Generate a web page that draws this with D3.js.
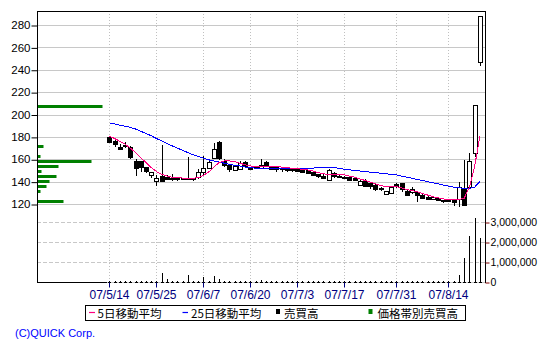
<!DOCTYPE html>
<html><head><meta charset="utf-8">
<script src="https://cdn.jsdelivr.net/npm/d3@7"></script>
<style>body{margin:0;background:#fff;} svg{display:block;}</style>
</head><body>
<svg id="c" width="550" height="350"></svg>
<script>
// ---------- DATA ----------
const dates = [
 "07/5/14","07/5/15","07/5/16","07/5/17","07/5/18","07/5/21","07/5/22","07/5/23","07/5/24","07/5/25","07/5/28","07/5/29","07/5/30","07/5/31",
 "07/6/1","07/6/4","07/6/5","07/6/6","07/6/7","07/6/8","07/6/11","07/6/12","07/6/13","07/6/14","07/6/15","07/6/18","07/6/19","07/6/20","07/6/21","07/6/22","07/6/25","07/6/26","07/6/27","07/6/28","07/6/29",
 "07/7/2","07/7/3","07/7/4","07/7/5","07/7/6","07/7/9","07/7/10","07/7/11","07/7/12","07/7/13","07/7/17","07/7/18","07/7/19","07/7/20","07/7/23","07/7/24","07/7/25","07/7/26","07/7/27","07/7/30","07/7/31",
 "07/8/1","07/8/2","07/8/3","07/8/6","07/8/7","07/8/8","07/8/9","07/8/10","07/8/13","07/8/14","07/8/15","07/8/16","07/8/17","07/8/20","07/8/21","07/8/22"];
const openP = [180,176.5,171,173,171,158.5,158,153,145.5,141,145,144,143.5,143,143,143,142.5,144,148,152,161,175.5,158,155,
 150,151,157.5,152.5,152.5,152,157.5,153,153,152,151.5,151,151,150.5,150,148.5,146.5,145,141.5,147.5,145,144.5,144.5,143,
 137.5,141,139,137,134,129,130.5,138,138.5,132,130,131,128,126,124.5,125,123.5,123,124,124.5,133,135,166,247];
const highP = [180.5,177,174,175,172,160,158.5,153.5,148.5,146,173,146,147,143.5,143.5,162,143.5,151.5,162.5,158,174.5,176,160,156,
 155,158.5,158,153,153.5,160,158,153.5,153.5,152.5,152,151.5,151.5,151,150.5,149,147,146.5,151,148.5,146,145,145,143.5,
 141.5,142,139.5,138,135,132,136,138.5,139,133,135.5,132,128.5,127,127,125.5,124,124.5,124.5,140,159.5,166,208.5,288];
const lowP = [175,171,169,170,160,145,148.5,148,143.5,136,140,142,141,141,142,142,140.5,142,146,151.5,160,159,153.5,148.5,
 149.5,150.5,153,151,151.5,151.5,153.5,151,148.5,149,149,149,149,148.5,147,145,143.5,142.5,141,143.5,143,142.5,141.5,140.5,
 137,135,133,132,132,128.5,130,134.5,131,127,129,122,124.5,123.5,124,122.5,121,122.5,118,117,118,134,162,243.5];
const closeP = [175.5,174,169.5,172.5,162,152.5,153,149.5,148.5,143.5,140.5,142.5,142.5,142.5,142.5,142.5,143,148.5,152,157.5,169,161,154,151.5,
 154,156.5,153.5,152,153,155,154,151.5,151,151,151,150.5,149.5,149,147.5,145.5,144.5,143.5,150.5,145,144,144,142,141,
 141,136.5,136.5,133,133,131.5,135.5,136,133.5,128,133,128,125,124.5,126.5,123,123,124,122,135,118.5,158,208.5,288];
const volume = [30000,30000,30000,30000,30000,60000,30000,60000,30000,30000,
 450000,150000,60000,30000,30000,350000,60000,60000,250000,60000,
 300000,150000,60000,60000,30000,30000,30000,30000,30000,100000,
 30000,30000,30000,30000,30000,30000,30000,30000,30000,30000,30000,30000,
 60000,
 30000,30000,30000,30000,30000,30000,30000,30000,30000,30000,30000,30000,
 30000,30000,30000,30000,30000,30000,30000,30000,30000,30000,30000,30000,
 350000,1200000,2300000,3200000,2200000];
const ma5 = [180.5,178.5,176,173.5,170,166,161.5,157,152.5,149,146.5,145,144,143.5,143.2,143,143,143.5,145.5,148.5,153,157,158.5,158.5,
 158,156.5,155,154,153.8,153.8,153.8,153.6,153.4,153,152.5,152,151.5,151,150.5,149.5,148,147,146.5,146.5,146.5,146,145,144,
 142.5,141,139.5,138,136.5,135.5,135.5,135.5,134.5,133,132,131,129.5,128,126.5,125.5,124.5,124,124,124,125,135,153,180.5];
const ma25 = [192.5,191.5,190.5,189.5,188.5,187,185,183,181,178.5,176.5,174,172,170,168,166,164,162.5,161,159.5,158.5,157.5,156.5,155.5,
 154.5,154,153,152.5,152,152,151.8,151.8,151.8,151.8,151.8,151.8,151.8,151.8,151.8,152,153,153,153,152.5,152,151,150.5,150,
 149.5,149,148.5,148,147.5,147,146.5,146,145,144,143,142,141,140,139,138,137,136,135,134.5,134,134,135,140];
const bandPrice  = [208,172,163,158.5,154,149.5,145,140.5,136,131.5,122.5];
const bandVolume = [3250,300,150,2700,1050,200,950,600,450,150,1300];
const xTickLabels = ["07/5/14","07/5/25","07/6/7","07/6/20","07/7/3","07/7/17","07/7/31","07/8/14"];
const priceTicks = [120,140,160,180,200,220,240,260,280];
const volumeTicks = [0,1000000,2000000,3000000];
const legendLabels = ["5日移動平均","25日移動平均","売買高","価格帯別売買高"];
const creditText = "(C)QUICK Corp.";

// ---------- LAYOUT ----------
const L = 37, R = 485, T = 11, B = 282;
const svg = d3.select("#c");
const x = d3.scaleLinear().domain([-13.9, 72]).range([L, R]);
const yP = d3.scaleLinear().domain([120, 280]).range([204, 25]);
const yV = d3.scaleLinear().domain([0, 3000000]).range([B, 222]);
const xb = d3.scaleLinear().domain([0, 3250]).range([0, 65]);
const cx = i => Math.round(x(i)) + 0.5;
const crisp = v => Math.round(v) + 0.5;
const idx = d3.range(dates.length);
const tickIdx = xTickLabels.map(s => dates.indexOf(s));

// grid: price (solid)
svg.append("g").selectAll("line").data(priceTicks).join("line")
  .attr("x1", L).attr("x2", R).attr("y1", d => crisp(yP(d))).attr("y2", d => crisp(yP(d)))
  .attr("stroke", "#c8c8c8");
// grid: volume (dashed)
svg.append("g").selectAll("line").data(volumeTicks.slice(1)).join("line")
  .attr("x1", L).attr("x2", R).attr("y1", d => crisp(yV(d))).attr("y2", d => crisp(yV(d)))
  .attr("stroke", "#c8c8c8").attr("stroke-dasharray", "4,2");
// grid: vertical dotted
svg.append("g").selectAll("line").data(tickIdx).join("line")
  .attr("x1", d => cx(d)).attr("x2", d => cx(d)).attr("y1", T).attr("y2", B)
  .attr("stroke", "#c0c0c0").attr("stroke-dasharray", "1,2");

// price-band volume bars
svg.append("g").selectAll("rect").data(bandPrice).join("rect")
  .attr("x", L + 0.5).attr("y", d => Math.round(yP(d)) - 1)
  .attr("width", (d, i) => xb(bandVolume[i])).attr("height", 3)
  .attr("fill", "#008000");

// volume bars
const vg = svg.append("g").attr("shape-rendering", "crispEdges");
vg.append("line").attr("x1", cx(0) - 3).attr("x2", R).attr("y1", B + 0.5).attr("y2", B + 0.5).attr("stroke", "#c8c8c8");
vg.append("line").attr("x1", L).attr("x2", cx(0) - 3).attr("y1", B + 0.5).attr("y2", B + 0.5).attr("stroke", "#000");
vg.selectAll("rect.base").data(idx).join("rect").attr("class", "base")
  .attr("x", i => cx(i) - 1.5).attr("y", B).attr("width", 3).attr("height", 1).attr("fill", "#000");
vg.selectAll("line.v").data(idx).join("line").attr("class", "v")
  .attr("x1", i => cx(i)).attr("x2", i => cx(i))
  .attr("y1", B).attr("y2", i => yV(volume[i])).attr("stroke", "#000");

// candles
const cg = svg.append("g").attr("shape-rendering", "crispEdges");
cg.selectAll("line").data(idx).join("line")
  .attr("x1", i => cx(i)).attr("x2", i => cx(i))
  .attr("y1", i => yP(highP[i])).attr("y2", i => yP(lowP[i])).attr("stroke", "#000");
cg.selectAll("rect").data(idx).join("rect")
  .attr("x", i => cx(i) - 2).attr("width", 4)
  .attr("y", i => Math.round(yP(Math.max(openP[i], closeP[i]))) + 0.5)
  .attr("height", i => Math.max(1, Math.round(Math.abs(yP(openP[i]) - yP(closeP[i])))))
  .attr("fill", i => closeP[i] > openP[i] ? "#fff" : "#000").attr("stroke", "#000");

// moving averages
const line = arr => d3.line().x(i => x(i)).y(i => yP(arr[i]))(idx);
svg.append("path").attr("d", line(ma25)).attr("fill", "none").attr("stroke", "#0000ff").attr("stroke-width", 1).attr("shape-rendering", "crispEdges");
svg.append("path").attr("d", line(ma5)).attr("fill", "none").attr("stroke", "#ff0080").attr("stroke-width", 1).attr("shape-rendering", "crispEdges");

// frame
svg.append("line").attr("x1", L + 0.5).attr("x2", L + 0.5).attr("y1", T).attr("y2", B + 1).attr("stroke", "#000");
svg.append("line").attr("x1", R + 0.5).attr("x2", R + 0.5).attr("y1", T).attr("y2", B + 1).attr("stroke", "#000");
svg.append("line").attr("x1", L).attr("x2", R + 1).attr("y1", T + 0.5).attr("y2", T + 0.5).attr("stroke", "#000");

// axes
const font = "'Liberation Sans', Arial, sans-serif";
const ay = svg.append("g").attr("transform", `translate(${L + 0.5},0)`)
  .call(d3.axisLeft(yP).tickValues(priceTicks).tickSize(6).tickPadding(1).tickFormat(d3.format("d")));
ay.select(".domain").remove();
ay.selectAll("line").attr("stroke", "#000").attr("transform", "translate(0,0.5)");
ay.selectAll("text").attr("font-family", font).attr("font-size", 11.5).attr("fill", "#000");

const ax = svg.append("g").attr("transform", `translate(0,${B + 0.5})`)
  .call(d3.axisBottom(x).tickValues(tickIdx).tickSize(5).tickPadding(3).tickFormat(i => dates[i]));
ax.select(".domain").remove();
ax.selectAll(".tick").attr("transform", d => `translate(${cx(d)},0)`);
ax.selectAll("line").attr("stroke", "#000080");
ax.selectAll("text").attr("font-family", font).attr("font-size", 12).attr("fill", "#000080");

const av = svg.append("g").attr("transform", `translate(${R + 0.5},0)`)
  .call(d3.axisRight(yV).tickValues(volumeTicks).tickSize(4).tickPadding(1).tickFormat(d3.format(",")));
av.select(".domain").remove();
av.selectAll("line").attr("stroke", "#800000").attr("transform", "translate(0,0.5)");
av.selectAll("text").attr("font-family", font).attr("font-size", 10.5).attr("fill", "#000");

// legend
const lg = svg.append("g");
lg.append("rect").attr("x", 85.5).attr("y", 305.5).attr("width", 380).attr("height", 15).attr("fill", "none").attr("stroke", "#000");
const jp = "'Noto Sans CJK JP', sans-serif";
const lx = [97.5, 191, 284, 377.5];
lg.append("line").attr("x1", 89).attr("x2", 95).attr("y1", 312.5).attr("y2", 312.5).attr("stroke", "#ff0080").attr("stroke-width", 1.2);
lg.append("line").attr("x1", 182.5).attr("x2", 188).attr("y1", 312.5).attr("y2", 312.5).attr("stroke", "#0000ff").attr("stroke-width", 1.2);
lg.append("rect").attr("x", 276).attr("y", 309).attr("width", 4).attr("height", 5).attr("fill", "#000");
lg.append("rect").attr("x", 368.5).attr("y", 309).attr("width", 4).attr("height", 5).attr("fill", "#008000");
lg.selectAll("text").data(legendLabels).join("text")
  .attr("x", (d, i) => lx[i]).attr("y", 317.5).text(d => d)
  .attr("font-family", jp).attr("font-size", 11.5).attr("fill", "#000");

svg.append("text").attr("x", 15).attr("y", 336.5).text(creditText)
  .attr("font-family", font).attr("font-size", 11).attr("fill", "#0000ff");
</script>
</body></html>
